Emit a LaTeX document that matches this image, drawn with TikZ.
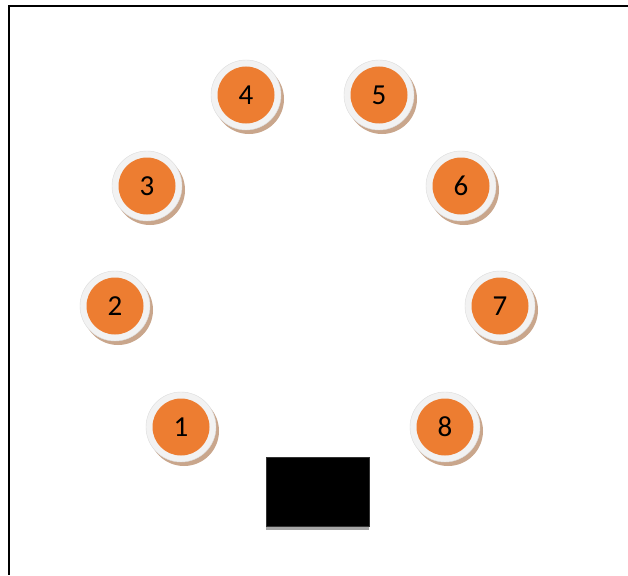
\documentclass[tikz,border=0pt]{standalone}
\usepackage{fontspec}
\setmainfont{Carlito}
\definecolor{orng}{HTML}{ED7D31}
\definecolor{ringc}{HTML}{F2F2F2}
\definecolor{shad}{HTML}{C9A68C}
\definecolor{ringedge}{HTML}{DCDCDC}
\tikzset{
  seat/.style={circle, fill=orng, minimum size=57pt, inner sep=0pt,
    font=\fontsize{29}{29}\selectfont, text=black},
}
\begin{document}
\begin{tikzpicture}[x=1pt,y=-1pt]
\useasboundingbox (0,0) rectangle (628,575);
\fill[white] (0,0) rectangle (628,575);
% frame
\draw[line width=2pt] (628,6) -- (9,6) -- (9,575);
% seats
\foreach \n/\x/\y in {1/181/427, 2/115/306, 3/147/186, 4/246/95, 5/379/95, 6/461/186, 7/500/306, 8/445/427}{
  \fill[shad] (\x+3,\y+4) circle (35);
  \fill[ringc] (\x,\y) circle (35);
  \draw[ringedge, line width=0.4pt] (\x,\y) circle (35);
  \node[seat] (s\n) at (\x,\y) {\raisebox{-2pt}{\n}};
}
% table
\fill[gray!70] (266,457) rectangle (369,530);
\node[fill=black, draw=black!80, line width=0.6pt, minimum width=103pt, minimum height=69pt, inner sep=0pt, anchor=north west] (tbl) at (266,457) {};
\end{tikzpicture}
\end{document}
